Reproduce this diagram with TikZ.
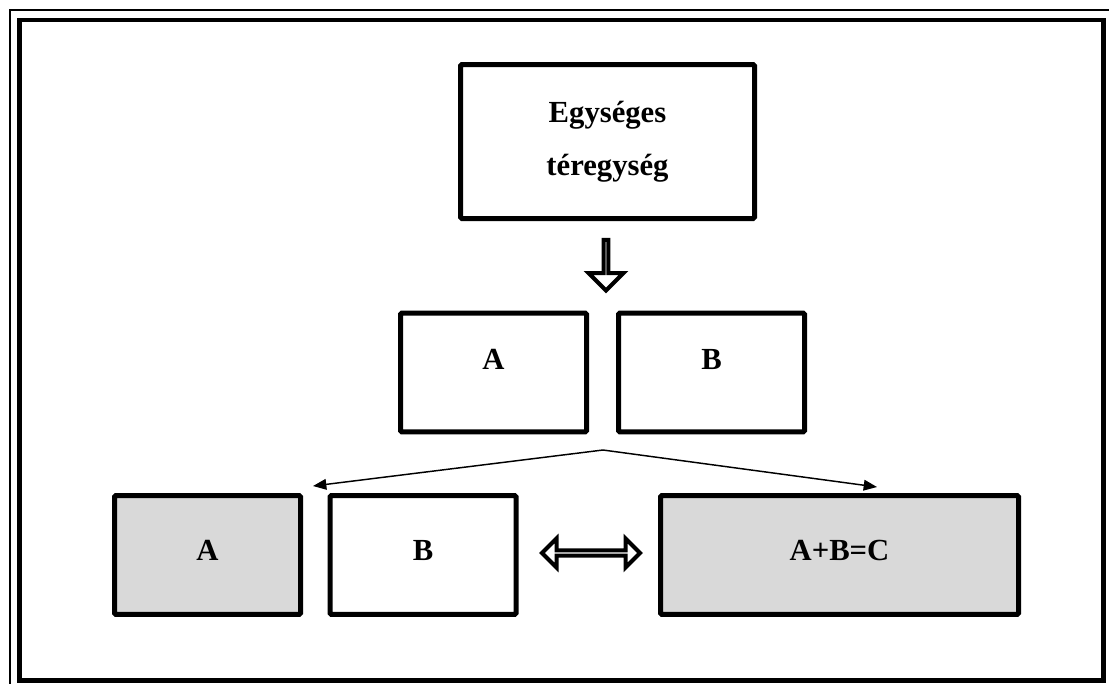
\documentclass[tikz,border=0pt]{standalone}
\usepackage{fontspec}
\setmainfont{Liberation Serif}
\usetikzlibrary{shapes.arrows,arrows.meta}
\definecolor{boxgray}{RGB}{217,217,217}

\begin{document}
\begin{tikzpicture}[x=0.75pt,y=-0.75pt]
	\tikzset{box/.style={draw, line width=3.75pt, rounded corners=1pt, inner sep=0pt, minimum width=139.5pt, minimum height=89pt, font=\bfseries\fontsize{23}{40}\selectfont, align=center},
		shaded/.style={box, fill=boxgray},
		hollow/.style={draw, line width=3pt, inner sep=0pt, fill=white},
		fork/.style={line width=1.1pt, -{Triangle[length=10pt,width=8pt]}}}
	\useasboundingbox (0,0) rectangle (1109,683);
	% frame
	\draw[line width=1.5pt] (9.5,700) -- (9.5,9.5) -- (1120,9.5);
	\draw[line width=3.4pt] (19.5,20) rectangle (1103.5,680.5);
	% boxes
	\node[box, minimum width=220.5pt, minimum height=115.5pt] (whole) at (607.5,141.5) {Egységes\\téregység};
	\node[box, text depth=19.5pt] (midA) at (493.5,372.5) {A};
	\node[box, text depth=19.5pt] (midB) at (711.5,372.5) {B};
	\node[shaded, text depth=7.5pt] (lowA) at (207.5,555) {A};
	\node[box, text depth=7.5pt] (lowB) at (423,555) {B};
	\node[shaded, text depth=7.5pt, minimum width=268.5pt] (sum) at (839.5,555) {A+B=C};
	% arrows
	\node[hollow, single arrow, rotate=-90, minimum height=38pt, minimum width=26.25pt, single arrow head extend=9.75pt] (down) at (606,264) {};
	\node[hollow, double arrow, minimum height=73.5pt, minimum width=21.75pt, double arrow head extend=6.75pt] (equiv) at (591,553) {};
	\coordinate (split) at (603,450);
	\coordinate (toA) at (313,486);
	\coordinate (toC) at (877,487);
	\draw[fork] (split) -- (toA);
	\draw[fork] (split) -- (toC);
\end{tikzpicture}
\end{document}
